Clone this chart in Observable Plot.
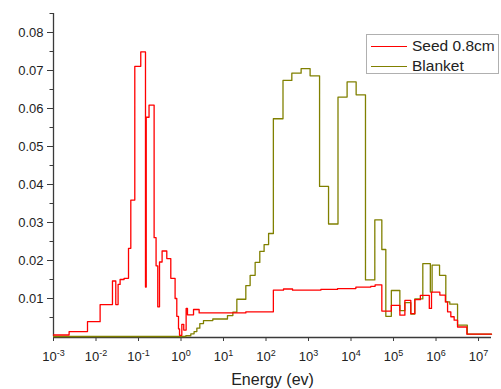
<!DOCTYPE html>
<html>
<head>
<meta charset="utf-8">
<script src="https://cdn.jsdelivr.net/npm/d3@7"></script>
<script src="https://cdn.jsdelivr.net/npm/@observablehq/plot@0.6"></script>
<style>
  html, body { margin: 0; padding: 0; background: #fff; }
  #wrap { position: relative; width: 501px; height: 389px; font-family: "Liberation Sans", Arial, sans-serif; }
  #legend { position: absolute; left: 366px; top: 34px; width: 133px; height: 40px; border: 1px solid #b0b0b0; background: #fff; box-sizing: border-box; }
  .row { position: absolute; left: 0; height: 20px; display: flex; align-items: center; }
  .sw { width: 36px; height: 0; border-top: 1.5px solid; margin-left: 4px; margin-right: 5px; }
  .lab { font-size: 15.5px; color: #222; }
</style>
</head>
<body>
<div id="wrap"></div>
<script>
// Seed 0.8cm (red) step histogram: bin lower edges (eV) and values
const seedE = [1e-3, 2.33e-3, 6.31e-3, 1.25e-2, 2.44e-2, 2.92e-2, 3.31e-2, 3.69e-2, 4.58e-2, 5.82e-2,
  6.59e-2, 8.18e-2, 0.113, 0.146, 0.152, 0.177, 0.233, 0.259, 0.284, 0.312,
  0.359, 0.463, 0.575, 0.726, 0.796, 0.873, 0.923, 1.045, 1.16, 1.32,
  1.42, 1.97, 2.67, 33.5, 149, 258, 421, 1950, 4810, 1.30e4,
  2.92e4, 3.69e4, 5.31e4, 8.89e4, 1.41e5, 1.85e5, 2.55e5, 3.17e5, 4.28e5, 6.95e5,
  7.83e5, 1.23e6, 1.66e6, 1.87e6, 2.23e6, 2.67e6, 3.21e6, 5.31e6, 2.02e7];
const seedV = [0.0004, 0.0013, 0.0039, 0.0084, 0.0146, 0.0084, 0.0137, 0.0150, 0.0153, 0.0232,
  0.0359, 0.0711, 0.0749, 0.0130, 0.0577, 0.0609, 0.0260, 0.0186, 0.0078, 0.0196,
  0.0225, 0.0205, 0.0153, 0.0100, 0.0053, 0.0020, 0.0003, 0.0032, 0.0017, 0.0074,
  0.0057, 0.0071, 0.0062, 0.0065, 0.0122, 0.0125, 0.0122, 0.0124, 0.0126, 0.0130,
  0.0132, 0.0136, 0.0067, 0.0082, 0.0056, 0.0095, 0.0060, 0.0097, 0.0108, 0.0074,
  0.0117, 0.0109, 0.0091, 0.0065, 0.0052, 0.0043, 0.0025, 0.0006, 0.0006];

// Blanket (olive) step histogram
const blanketE = [1e-3, 1.30, 1.70, 2.03, 2.36, 2.77, 3.38, 5.60, 12.4, 16.6,
  20.6, 33.5, 42.3, 55.5, 71.4, 90.2, 115, 149, 251, 405,
  670, 1090, 1820, 2960, 4940, 8090, 1.32e4, 2.19e4, 3.63e4, 5.31e4,
  6.59e4, 8.89e4, 1.41e5, 1.85e5, 2.55e5, 3.17e5, 4.89e5, 7.35e5, 8.09e5, 1.21e6,
  1.70e6, 2.11e6, 3.21e6, 5.45e6, 2.02e7];
const blanketV = [0, 0.0002, 0.0007, 0.0013, 0.0022, 0.0034, 0.0042, 0.0046, 0.0055, 0.0064,
  0.0098, 0.0134, 0.0161, 0.0195, 0.0224, 0.0242, 0.0271, 0.0573, 0.0674, 0.0693,
  0.0705, 0.0686, 0.0395, 0.0296, 0.0630, 0.0670, 0.0636, 0.0149, 0.0307, 0.0229,
  0.0053, 0.0121, 0.0068, 0.0089, 0.0059, 0.0099, 0.0192, 0.0117, 0.0188, 0.0161,
  0.0091, 0.0085, 0.0030, 0.0006, 0.0006];

const xTicks = [1e-3, 1e-2, 1e-1, 1e0, 1e1, 1e2, 1e3, 1e4, 1e5, 1e6, 1e7];
const yTicks = [0.01, 0.02, 0.03, 0.04, 0.05, 0.06, 0.07, 0.08];
const yMinor = [0.005, 0.015, 0.025, 0.035, 0.045, 0.055, 0.065, 0.075, 0.085];
const seriesNames = ["Seed 0.8cm", "Blanket"];
const seriesColors = ["#ff0000", "#808000"];

const seed = seedE.map((e, i) => ({e, v: seedV[i]}));
const blanket = blanketE.map((e, i) => ({e, v: blanketV[i]}));

const axisColor = "#3a3a3a";
const chart = Plot.plot({
  width: 501,
  height: 389,
  marginLeft: 53,
  marginRight: 10,
  marginTop: 13,
  marginBottom: 53,
  style: {fontFamily: '"Liberation Sans", Arial, sans-serif', background: "#fff", color: "#222"},
  x: {type: "log", domain: [1e-3, 2.02e7]},
  y: {domain: [0, 0.085]},
  marks: [
    Plot.ruleY([0], {stroke: axisColor, strokeWidth: 1.3, dy: 1}),
    Plot.ruleX([1e-3], {y1: 0, y2: 0.085, stroke: axisColor, strokeWidth: 1.3}),
    Plot.axisY(yTicks, {tickSize: 6, tickPadding: 4, stroke: axisColor, fontSize: 13, tickFormat: d => d.toFixed(2), label: null}),
    Plot.axisY(yMinor, {tickSize: 3.5, stroke: axisColor, tickFormat: () => "", label: null}),
    Plot.axisX(xTicks, {tickSize: 4, dy: 1, tickPadding: 10, stroke: axisColor, fontSize: 13,
      tickFormat: d => String(Math.round(Math.log10(d))), label: null}),
    Plot.line(blanket, {x: "e", y: "v", curve: "step-after", stroke: seriesColors[1], strokeWidth: 1.3}),
    Plot.line(seed, {x: "e", y: "v", curve: "step-after", stroke: seriesColors[0], strokeWidth: 1.3}),
    Plot.text(["Energy (ev)"], {frameAnchor: "bottom", dy: 48, fontSize: 16, fill: "#222"})
  ]
});

// superscript exponents on the x tick labels
d3.select(chart).selectAll('g[aria-label="x-axis tick label"] text').each(function() {
  const t = d3.select(this);
  const exp = t.text();
  t.text("");
  t.append("tspan").text("10");
  t.append("tspan").attr("font-size", 9).attr("dy", "-0.55em").text(exp);
});

const wrap = document.getElementById("wrap");
wrap.appendChild(chart);

const legend = document.createElement("div");
legend.id = "legend";
seriesNames.forEach((name, i) => {
  const row = document.createElement("div");
  row.className = "row";
  row.style.top = (i * 20 + 1) + "px";
  const sw = document.createElement("div");
  sw.className = "sw";
  sw.style.borderColor = seriesColors[i];
  const lab = document.createElement("span");
  lab.className = "lab";
  lab.textContent = name;
  row.appendChild(sw);
  row.appendChild(lab);
  legend.appendChild(row);
});
wrap.appendChild(legend);
</script>
</body>
</html>
